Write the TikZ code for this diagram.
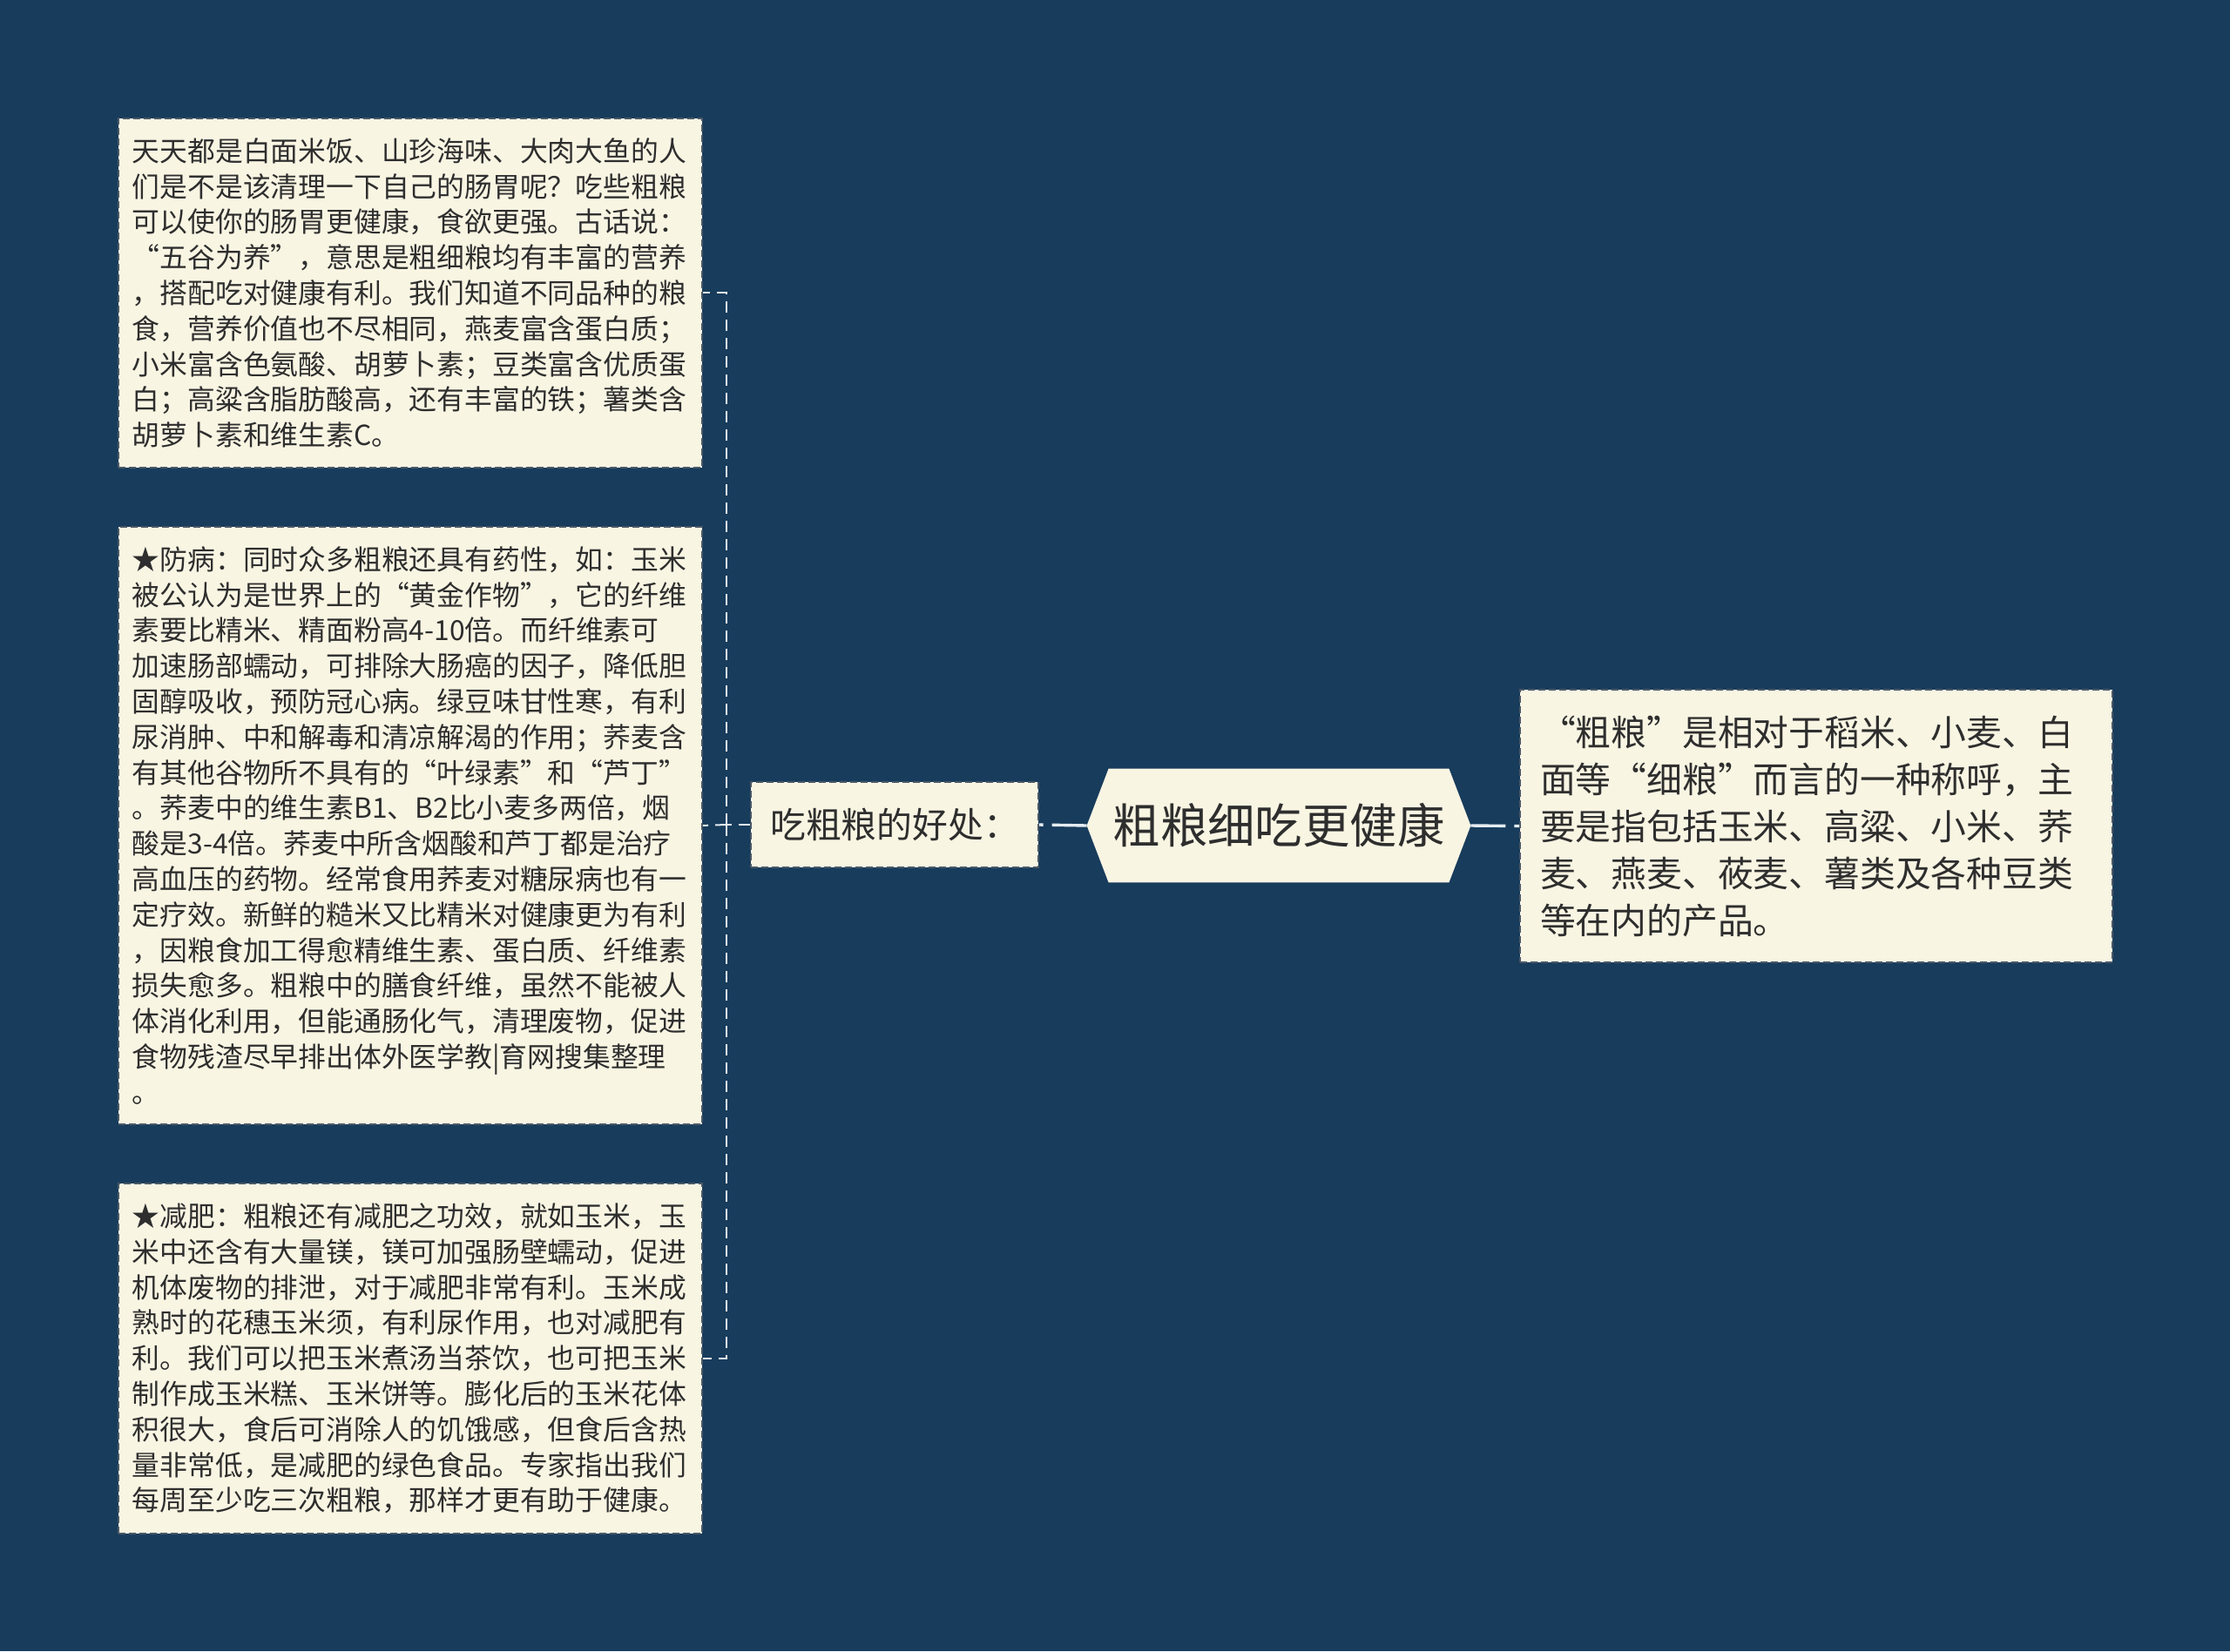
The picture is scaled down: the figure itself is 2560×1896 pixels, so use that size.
\documentclass[tikz,border=0pt]{standalone}
\usepackage{fontspec}
\setmainfont{Noto Sans CJK SC}
\usetikzlibrary{backgrounds,calc}
\definecolor{bg}{HTML}{183C5C}
\definecolor{cream}{HTML}{F9F5E3}
\definecolor{bordercol}{HTML}{4A5866}
\definecolor{txt}{HTML}{2E2E2E}
\definecolor{linecol}{HTML}{E4ECF2}
\begin{document}
\begin{tikzpicture}[x=0.5pt,y=-0.5pt,
  box/.style={draw=bordercol, line width=0.9pt, dash pattern=on 4pt off 2pt,
    fill=cream, text=txt, inner xsep=8pt, inner ysep=0pt, align=left,
    font=\fontsize{15.9pt}{20.4pt}\selectfont, text width=319pt,
    minimum height=#1, anchor=north west},
  rbox/.style={draw=bordercol, line width=0.9pt, dash pattern=on 4pt off 2pt,
    fill=cream, text=txt, inner xsep=11.5pt, inner ysep=0pt, align=left,
    font=\fontsize{20.4pt}{27pt}\selectfont, text width=317pt,
    minimum height=156.5pt},
  midbox/.style={draw=bordercol, line width=0.9pt, dash pattern=on 4pt off 2pt,
    fill=cream, text=txt, inner sep=0pt, minimum width=165pt, minimum height=49pt,
    font=\fontsize{20.4pt}{24pt}\selectfont},
  hexnode/.style={inner sep=0pt, minimum width=220pt, minimum height=65pt,
    text=txt, font=\fontsize{27.2pt}{32pt}\selectfont},
  branch/.style={draw=linecol, line width=1pt, dash pattern=on 6.5pt off 4pt},
  mainline/.style={draw=linecol, line width=1.7pt, dash pattern=on 20pt off 5pt}]

\begin{scope}[on background layer]
  \fill[bg] (0,0) rectangle (2560,1896);
\end{scope}
\useasboundingbox (0,0) rectangle (2560,1896);

% left boxes
\node[box=200.5pt] (b1) at (135,135) {天天都是白面米饭、山珍海味、大肉大鱼的人\\
们是不是该清理一下自己的肠胃呢？吃些粗粮\\
可以使你的肠胃更健康，食欲更强。古话说：\\
“五谷为养”，意思是粗细粮均有丰富的营养\\
，搭配吃对健康有利。我们知道不同品种的粮\\
食，营养价值也不尽相同，燕麦富含蛋白质；\\
小米富含色氨酸、胡萝卜素；豆类富含优质蛋\\
白；高粱含脂肪酸高，还有丰富的铁；薯类含\\
胡萝卜素和维生素C。};

\node[box=343pt] (b2) at (135,604) {★防病：同时众多粗粮还具有药性，如：玉米\\
被公认为是世界上的“黄金作物”，它的纤维\\
素要比精米、精面粉高4-10倍。而纤维素可\\
加速肠部蠕动，可排除大肠癌的因子，降低胆\\
固醇吸收，预防冠心病。绿豆味甘性寒，有利\\
尿消肿、中和解毒和清凉解渴的作用；荞麦含\\
有其他谷物所不具有的“叶绿素”和“芦丁”\\
。荞麦中的维生素B1、B2比小麦多两倍，烟\\
酸是3-4倍。荞麦中所含烟酸和芦丁都是治疗\\
高血压的药物。经常食用荞麦对糖尿病也有一\\
定疗效。新鲜的糙米又比精米对健康更为有利\\
，因粮食加工得愈精维生素、蛋白质、纤维素\\
损失愈多。粗粮中的膳食纤维，虽然不能被人\\
体消化利用，但能通肠化气，清理废物，促进\\
食物残渣尽早排出体外医学教|育网搜集整理\\
。};

\node[box=201pt] (b3) at (135,1358) {★减肥：粗粮还有减肥之功效，就如玉米，玉\\
米中还含有大量镁，镁可加强肠壁蠕动，促进\\
机体废物的排泄，对于减肥非常有利。玉米成\\
熟时的花穗玉米须，有利尿作用，也对减肥有\\
利。我们可以把玉米煮汤当茶饮，也可把玉米\\
制作成玉米糕、玉米饼等。膨化后的玉米花体\\
积很大，食后可消除人的饥饿感，但食后含热\\
量非常低，是减肥的绿色食品。专家指出我们\\
每周至少吃三次粗粮，那样才更有助于健康。};

% middle
\node[midbox] (mid) at (1027,947) {吃粗粮的好处：};

% center hexagon
\node[hexnode] (hex) at (1468,948) {粗粮细吃更健康};
\begin{scope}[on background layer]
  \fill[cream] (hex.west) -- ([xshift=12.5pt]hex.north west) -- ([xshift=-12.5pt]hex.north east)
    -- (hex.east) -- ([xshift=-12.5pt]hex.south east) -- ([xshift=12.5pt]hex.south west) -- cycle;
\end{scope}

% right box
\node[rbox] (rb) at (2085,948.5) {“粗粮”是相对于稻米、小麦、白\\
面等“细粮”而言的一种称呼，主\\
要是指包括玉米、高粱、小米、荞\\
麦、燕麦、莜麦、薯类及各种豆类\\
等在内的产品。};

% connectors
\coordinate (jn) at (834,947);
\draw[mainline] (hex.west) -- (mid.east);
\draw[mainline] (hex.east) -- (rb.west);
\draw[branch] (mid.west) -- (jn);
\draw[branch] (jn) |- (b1.east);
\draw[branch] (jn) -- (b2.east);
\draw[branch] (jn) |- (b3.east);
\end{tikzpicture}
\end{document}
